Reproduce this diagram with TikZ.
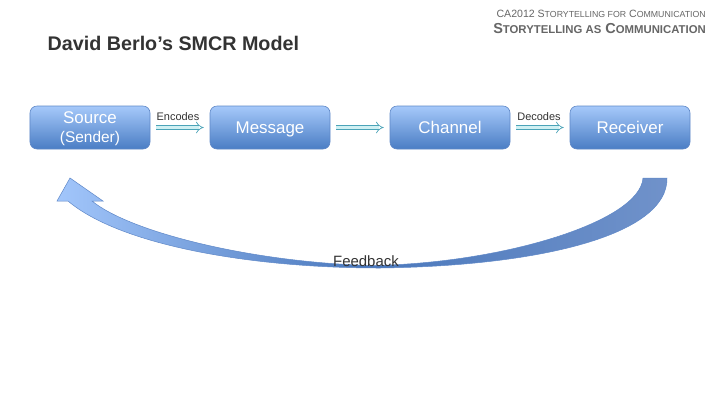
\documentclass[tikz,border=0pt]{standalone}
\usepackage{fontspec}
\setmainfont{Liberation Sans}
\usetikzlibrary{arrows.meta}
\definecolor{boxtop}{HTML}{A6C9FA}
\definecolor{boxbot}{HTML}{4A7DC4}
\definecolor{boxline}{HTML}{5F88C8}
\definecolor{arrline}{HTML}{4BA3B8}
\definecolor{arrfill}{HTML}{CFF0F3}
\definecolor{titlegray}{HTML}{333333}
\definecolor{headgray}{HTML}{666666}
\definecolor{fbleft}{HTML}{A2C6FB}
\definecolor{fbmid}{HTML}{4A78BC}
\definecolor{fbright}{HTML}{7092CA}
\newcommand{\sck}[1]{{\fontsize{8.8}{9}\selectfont #1}}
\newcommand{\sckb}[1]{{\fontsize{11.4}{12}\selectfont #1}}
\begin{document}
\begin{tikzpicture}[x=1bp,y=-1bp,
  smbox/.style={draw=boxline, line width=0.6bp, rounded corners=7bp,
    top color=boxtop, bottom color=boxbot, minimum width=120bp,
    minimum height=43bp, inner sep=0pt, text=white, align=center,
    font=\fontsize{17}{18}\selectfont},
  boxtext/.style={text height=12.2bp, text depth=0bp},
  hollow/.style={draw=arrline, line width=0.7bp, double=arrfill,
    double distance=3.4bp, -{Implies[length=4bp]}, shorten >=1bp},
  lbl/.style={text=titlegray, font=\fontsize{11}{12}\selectfont, inner sep=0pt}]
\useasboundingbox[fill=white] (0,0) rectangle (720,405);

\node[anchor=east, text=headgray, inner sep=0pt] (h1) at (706,14)
  {\fontsize{10.6}{11}\selectfont CA2012 S\sck{TORYTELLING FOR} C\sck{OMMUNICATION}};
\node[anchor=east, text=headgray, inner sep=0pt, font=\bfseries] (h2) at (706,29)
  {\fontsize{14.5}{15}\selectfont S\sckb{TORYTELLING AS} C\sckb{OMMUNICATION}};
\node[anchor=west, text=titlegray, inner sep=0pt, font=\bfseries\fontsize{19.8}{22}\selectfont]
  (title) at (47.5,43) {David Berlo’s SMCR Model};

\node[smbox, text height=30bp, text depth=0bp] (src) at (90,127.5) {Source\\[1pt]{\fontsize{15.5}{16}\selectfont (Sender)}};
\node[smbox, boxtext] (msg) at (270,127.5) {Message};
\node[smbox, boxtext] (chn) at (450,127.5) {Channel};
\node[smbox, boxtext] (rcv) at (630,127.5) {Receiver};

\draw[hollow] ([xshift=6bp]src.east) -- ([xshift=-5bp]msg.west);
\draw[hollow] ([xshift=6bp]msg.east) -- ([xshift=-5bp]chn.west);
\draw[hollow] ([xshift=6bp]chn.east) -- ([xshift=-5bp]rcv.west);
\node[lbl] (enc) at (178,117) {Encodes};
\node[lbl] (dec) at (539,117) {Decodes};

% feedback crescent arrow
\path[draw=boxline, line width=0.5bp, left color=fbleft, right color=fbright, middle color=fbmid]
  (667,178) .. controls (668,235) and (540,266) .. (380,268)
  .. controls (250,268) and (120,245) .. (68,201)
  -- (57,201) -- (70,178) -- (103,201) -- (92,201)
  .. controls (130,232) and (250,262) .. (370,265.5)
  .. controls (500,264) and (640,222) .. (643,178) -- cycle;
\node[text=titlegray, font=\fontsize{15}{16}\selectfont, inner sep=0pt, anchor=base] (fb) at (366,266) {Feedback};
\end{tikzpicture}
\end{document}
